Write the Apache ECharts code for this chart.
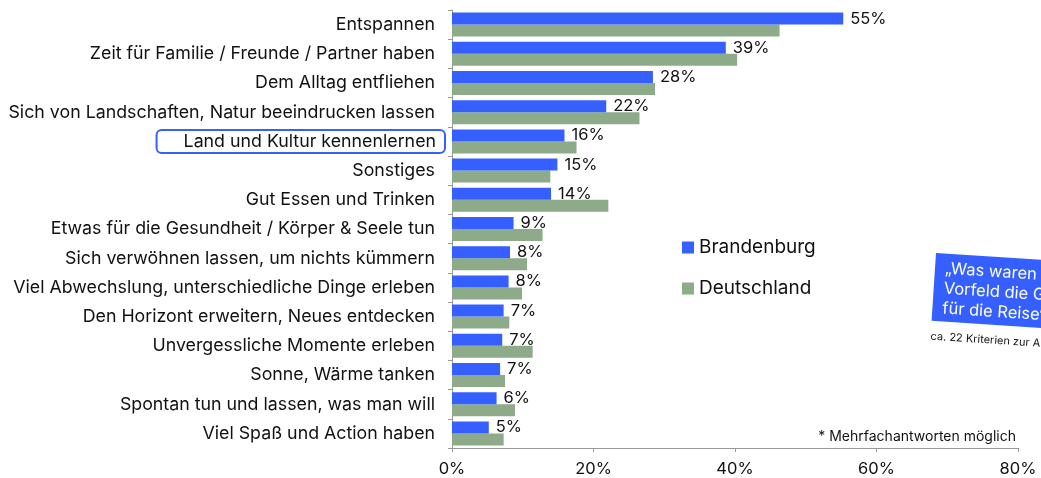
<!DOCTYPE html>
<html>
<head>
<meta charset="utf-8">
<script src="https://cdn.jsdelivr.net/npm/echarts@6/dist/echarts.min.js"></script>
<style>
  html, body { margin: 0; padding: 0; background: #fff; }
  #chart { width: 1041px; height: 478px; }
</style>
</head>
<body>
<div id="chart"></div>
<script>
// Kategorien (von oben nach unten)
var categories = [
    'Entspannen',
    'Zeit für Familie / Freunde / Partner haben',
    'Dem Alltag entfliehen',
    'Sich von Landschaften, Natur beeindrucken lassen',
    'Land und Kultur kennenlernen',
    'Sonstiges',
    'Gut Essen und Trinken',
    'Etwas für die Gesundheit / Körper & Seele tun',
    'Sich verwöhnen lassen, um nichts kümmern',
    'Viel Abwechslung, unterschiedliche Dinge erleben',
    'Den Horizont erweitern, Neues entdecken',
    'Unvergessliche Momente erleben',
    'Sonne, Wärme tanken',
    'Spontan tun und lassen, was man will',
    'Viel Spaß und Action haben'
];
var brandenburg = [55.3, 38.7, 28.4, 21.8, 15.9, 14.9, 14.0, 8.7, 8.2, 8.0, 7.3, 7.1, 6.8, 6.3, 5.2];
var deutschland = [46.3, 40.3, 28.7, 26.5, 17.6, 13.9, 22.1, 12.8, 10.6, 9.9, 8.1, 11.4, 7.5, 8.9, 7.3];
var xTicks = [0, 20, 40, 60, 80];
var highlight = 'Land und Kultur kennenlernen';

var BLUE = '#3560ff';
var GREEN = '#8dab88';
var FONT = 'Inter';

var chart = echarts.init(document.getElementById('chart'));

var option = {
    animation: false,
    textStyle: { fontFamily: FONT, color: '#111' },
    grid: { left: 452, right: 23, top: 10, bottom: 29 },
    legend: {
        orient: 'vertical',
        left: 677,
        top: 233,
        itemWidth: 12,
        itemHeight: 12,
        itemGap: 22,
        icon: 'rect',
        textStyle: { fontSize: 19, color: '#111', fontFamily: FONT },
        data: ['Brandenburg', 'Deutschland']
    },
    xAxis: {
        type: 'value',
        min: xTicks[0],
        max: xTicks[xTicks.length - 1],
        interval: 20,
        splitLine: { show: false },
        axisLine: { show: true, lineStyle: { color: '#999' } },
        axisTick: { show: true, length: 4, lineStyle: { color: '#999' } },
        axisLabel: {
            formatter: '{value}%',
            fontSize: 16.5,
            color: '#111',
            margin: 13,
            fontFamily: FONT
        }
    },
    yAxis: {
        type: 'category',
        inverse: true,
        data: categories,
        axisLine: { show: true, lineStyle: { color: '#999' } },
        axisTick: { show: true, length: 4, lineStyle: { color: '#999' } },
        axisLabel: {
            margin: 7,
            fontSize: 17.8,
            color: '#111',
            fontFamily: FONT,
            formatter: function (v) {
                return v === highlight ? '{hl|' + v + '}' : '{n|' + v + '}';
            },
            rich: {
                n: { fontSize: 17.8, color: '#111', fontFamily: FONT, padding: [0, 10, 0, 0] },
                hl: {
                    fontSize: 17.8, color: '#111', fontFamily: FONT,
                    borderColor: BLUE, borderWidth: 2, borderRadius: 5,
                    padding: [3, 9, 2, 27]
                }
            }
        }
    },
    series: [
        {
            name: 'Brandenburg',
            type: 'bar',
            data: brandenburg,
            barWidth: 12,
            barGap: '0%',
            itemStyle: { color: BLUE },
            z: 3,
            label: {
                show: true,
                position: 'right',
                distance: 7,
                fontSize: 16.5,
                color: '#111',
                fontFamily: FONT,
                formatter: function (p) { return Math.round(p.value) + '%'; }
            }
        },
        {
            name: 'Deutschland',
            type: 'bar',
            data: deutschland,
            barWidth: 12,
            itemStyle: { color: GREEN },
            z: 2
        }
    ],
    graphic: [
        {
            type: 'text',
            right: 25,
            top: 430,
            style: { text: '* Mehrfachantworten möglich', fontSize: 14, fill: '#111', fontFamily: FONT }
        },
        {
            type: 'group',
            x: 936,
            y: 253,
            rotation: -0.065,
            children: [
                { type: 'rect', shape: { x: 0, y: 0, width: 220, height: 68 }, style: { fill: BLUE } },
                {
                    type: 'text', x: 10, y: 5,
                    style: {
                        text: '„Was waren im\nVorfeld die Gründe\nfür die Reise“',
                        fill: '#fff', fontSize: 16.5, lineHeight: 20, fontFamily: FONT
                    }
                },
                {
                    type: 'text', x: 0, y: 78,
                    style: { text: 'ca. 22 Kriterien zur Auswahl', fill: '#111', fontSize: 11, fontFamily: FONT }
                }
            ]
        }
    ]
};

chart.setOption(option);
</script>
</body>
</html>
